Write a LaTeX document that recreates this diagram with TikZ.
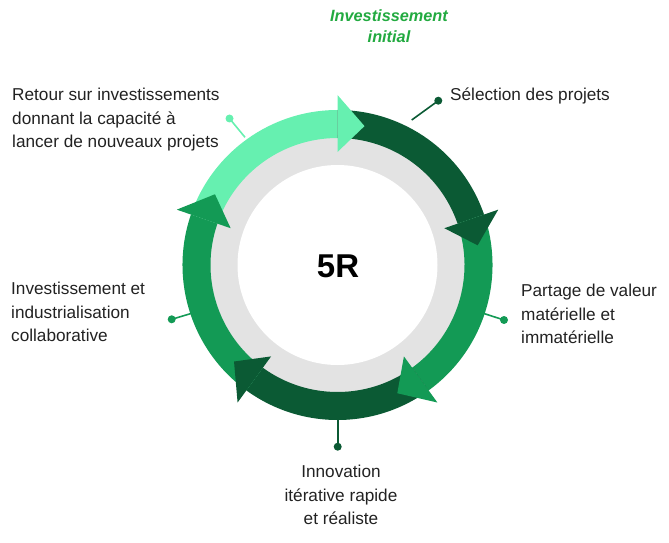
\documentclass[tikz,border=0pt]{standalone}
\usepackage{fontspec}
\setmainfont{Liberation Sans}
\definecolor{lightg}{HTML}{66F0B0}
\definecolor{darkg}{HTML}{0B5A34}
\definecolor{midg}{HTML}{139A55}
\definecolor{titleg}{HTML}{22AA40}
\definecolor{ringgray}{HTML}{E3E3E3}
\definecolor{txt}{HTML}{222222}
\tikzset{
  lbl/.style={inner sep=0pt, text=txt, font=\fontsize{17.2}{23.5}\selectfont},
  dotn/.style={circle, fill=#1, inner sep=0pt, minimum size=8pt},
  conn/.style={draw=#1, line width=1.6pt},
}
\newcommand{\arrowbody}[4]{% color, start, end, dummy
  \fill[#1] (#2:127) arc[start angle=#2, end angle=#3, radius=127] -- (#3:155) arc[start angle=#3, end angle=#2, radius=155] -- cycle;}
\newcommand{\arrowhead}[3]{% color, base, tip
  \fill[#1] (#2:127) -- (#2:113) -- (#3:141.5) -- (#2:170) -- (#2:155) -- cycle;}
\begin{document}
\begin{tikzpicture}[x=1pt,y=1pt]
\useasboundingbox (0,0) rectangle (669,542);
\begin{scope}[shift={(337.5,277)}]
  \fill[ringgray] (0,0) circle[radius=130];
  \fill[white] (0,0) circle[radius=100];
  \arrowbody{lightg}{161}{90}{}
  \arrowbody{darkg}{90}{19}{}
  \arrowbody{midg}{19}{-54}{}
  \arrowbody{darkg}{-54}{-126}{}
  \arrowbody{midg}{-126}{-199}{}
  \arrowhead{lightg}{90}{79}
  \arrowhead{darkg}{19}{8}
  \arrowhead{midg}{-54}{-65}
  \arrowhead{darkg}{-126}{-137}
  \arrowhead{midg}{-199}{-210}
\end{scope}
\node[inner sep=0pt, font=\fontsize{33}{33}\selectfont\bfseries] (c) at (338,276) {5R};
\node[inner sep=0pt, text=titleg, align=center, font=\fontsize{16.3}{21}\selectfont\bfseries\itshape] (t) at (389,516) {Investissement\\initial};
% labels
\node[lbl, anchor=west, align=left] (l1) at (12,422) {Retour sur investissements\\donnant la capacité à\\lancer de nouveaux projets};
\node[lbl, anchor=west, align=left] (l2) at (450,446.5) {Sélection des projets};
\node[lbl, anchor=west, align=left] (l3) at (521,228) {Partage de valeur\\matérielle et\\immatérielle};
\node[lbl, anchor=west, align=left] (l5) at (11,230) {Investissement et\\industrialisation\\collaborative};
\node[lbl, anchor=center, align=center] (l4) at (341,47) {Innovation\\itérative rapide\\et réaliste};
% connectors
\node[dotn=lightg] (d1) at (229.5,423.5) {};
\coordinate (e1) at (245,404.7);
\draw[conn=lightg] (d1.center) -- (e1);
\node[dotn=darkg] (d2) at (438.3,441.3) {};
\coordinate (e2) at (411.7,422);
\draw[conn=darkg] (d2.center) -- (e2);
\node[dotn=midg] (d3) at (504,222) {};
\coordinate (e3) at (483.3,228.7);
\draw[conn=midg] (d3.center) -- (e3);
\node[dotn=darkg] (d4) at (337.7,95.3) {};
\coordinate (e4) at (337.7,122);
\draw[conn=darkg] (d4.center) -- (e4);
\node[dotn=midg] (d5) at (171.7,222.7) {};
\coordinate (e5) at (191.7,228.7);
\draw[conn=midg] (d5.center) -- (e5);
\end{tikzpicture}
\end{document}
